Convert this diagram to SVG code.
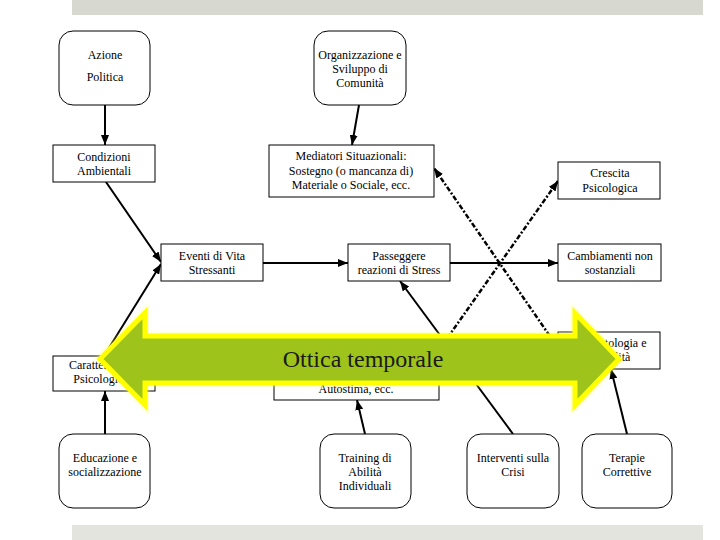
<svg xmlns="http://www.w3.org/2000/svg" width="720" height="540" viewBox="0 0 720 540">
<style>
.box{fill:#ffffff;stroke:#000000;stroke-width:1}
.t{font-family:"Liberation Serif","Times New Roman",serif;font-size:12px;fill:#000000;text-anchor:middle}
.c{fill:none;stroke:#000000;stroke-width:2}
.d{fill:none;stroke:#000000;stroke-width:2.5;stroke-dasharray:5 2 2 2}
.big{font-family:"Liberation Serif","Times New Roman",serif;font-size:24px;fill:#1a1a1a;text-anchor:middle}
</style>
<defs>
<marker id="ah" markerUnits="userSpaceOnUse" markerWidth="10" markerHeight="8" refX="10" refY="4" orient="auto">
<path d="M0,0 L10,4 L0,8 Z" fill="#000000"/>
</marker>
<filter id="glow" x="-10%" y="-30%" width="120%" height="160%">
<feGaussianBlur stdDeviation="1.5"/>
</filter>
</defs>
<rect x="0" y="0" width="720" height="540" fill="#ffffff"/>
<rect x="72" y="0" width="631" height="15" fill="#d7d8d0"/>
<rect x="72" y="525" width="631" height="15" fill="#e4e4de"/>

<g id="connectors">
<path class="c" d="M105,105 L105,145" marker-end="url(#ah)"/>
<path class="c" d="M359,105 L352,145" marker-end="url(#ah)"/>
<path class="c" d="M106,182 L161,262" marker-end="url(#ah)"/>
<path class="c" d="M104,356 L161,264" marker-end="url(#ah)"/>
<path class="c" d="M263,263 L348,263" marker-end="url(#ah)"/>
<path class="c" d="M450,263 L558,263" marker-end="url(#ah)"/>
<path class="c" d="M513,434 L400,281" marker-end="url(#ah)"/>
<path class="c" d="M627,434 L611,369" marker-end="url(#ah)"/>
<path class="c" d="M105,434 L105,391" marker-end="url(#ah)"/>
<path class="c" d="M365,434 L357,400" marker-end="url(#ah)"/>
<path class="d" d="M556,345 L434,168" marker-end="url(#ah)"/>
<path class="d" d="M441,347 L558,181" marker-end="url(#ah)"/>
</g>

<g id="azione">
<rect class="box" x="59" y="31" width="91" height="74" rx="14"/>
<text class="t" x="105" y="59">Azione</text>
<text class="t" x="105" y="81">Politica</text>
</g>
<g id="organizzazione">
<rect class="box" x="314" y="31" width="92" height="74" rx="14"/>
<text class="t" x="360" y="59">Organizzazione e</text>
<text class="t" x="360" y="73">Sviluppo di</text>
<text class="t" x="360" y="87">Comunità</text>
</g>
<g id="condizioni">
<rect class="box" x="53" y="145" width="102" height="37"/>
<text class="t" x="104" y="161">Condizioni</text>
<text class="t" x="104" y="175">Ambientali</text>
</g>
<g id="mediatori">
<rect class="box" x="269" y="145" width="165" height="52"/>
<text class="t" x="351" y="160">Mediatori Situazionali:</text>
<text class="t" x="351" y="175">Sostegno (o mancanza di)</text>
<text class="t" x="351" y="189">Materiale o Sociale, ecc.</text>
</g>
<g id="crescita">
<rect class="box" x="558" y="162" width="102" height="37"/>
<text class="t" x="610" y="177">Crescita</text>
<text class="t" x="610" y="192">Psicologica</text>
</g>
<g id="eventi">
<rect class="box" x="161" y="244" width="102" height="37"/>
<text class="t" x="212" y="260">Eventi di Vita</text>
<text class="t" x="212" y="274">Stressanti</text>
</g>
<g id="passeggere">
<rect class="box" x="348" y="244" width="102" height="37"/>
<text class="t" x="399" y="260">Passeggere</text>
<text class="t" x="399" y="274">reazioni di Stress</text>
</g>
<g id="cambiamenti">
<rect class="box" x="558" y="244" width="103" height="37"/>
<text class="t" x="610" y="260">Cambiamenti non</text>
<text class="t" x="610" y="274">sostanziali</text>
</g>
<g id="psicopatologia">
<rect class="box" x="558" y="332" width="102" height="37"/>
<text class="t" x="607" y="347">Psicopatologia e</text>
<text class="t" x="607" y="361">Disabilità</text>
</g>
<g id="caratteristiche">
<rect class="box" x="53" y="356" width="102" height="35"/>
<text class="t" x="104" y="369">Caratteristiche</text>
<text class="t" x="104" y="383">Psicologiche</text>
</g>
<g id="mediatori-psicologici">
<rect class="box" x="274" y="342" width="165" height="58"/>
<text class="t" x="356" y="393">Autostima, ecc.</text>
</g>
<g id="educazione">
<rect class="box" x="59" y="434" width="91" height="74" rx="14"/>
<text class="t" x="105" y="462">Educazione e</text>
<text class="t" x="105" y="476">socializzazione</text>
</g>
<g id="training">
<rect class="box" x="320" y="434" width="91" height="74" rx="14"/>
<text class="t" x="365" y="462">Training di</text>
<text class="t" x="365" y="476">Abilità</text>
<text class="t" x="365" y="490">Individuali</text>
</g>
<g id="interventi">
<rect class="box" x="467" y="434" width="92" height="74" rx="14"/>
<text class="t" x="513" y="462">Interventi sulla</text>
<text class="t" x="513" y="476">Crisi</text>
</g>
<g id="terapie">
<rect class="box" x="582" y="434" width="90" height="74" rx="14"/>
<text class="t" x="627" y="462">Terapie</text>
<text class="t" x="627" y="476">Correttive</text>
</g>

<g id="ottica-temporale">
<path d="M100,359 L145,313 L145,336 L575,336 L575,313 L619,359 L575,405 L575,383 L145,383 L145,405 Z" fill="none" stroke="#ffff66" stroke-width="8" stroke-linejoin="miter" opacity="0.35" filter="url(#glow)"/>
<path d="M100,359 L145,313 L145,336 L575,336 L575,313 L619,359 L575,405 L575,383 L145,383 L145,405 Z" fill="#9ec41b" stroke="#ffff00" stroke-width="5" stroke-linejoin="miter"/>
<text class="big" x="363" y="367">Ottica temporale</text>
</g>
</svg>
